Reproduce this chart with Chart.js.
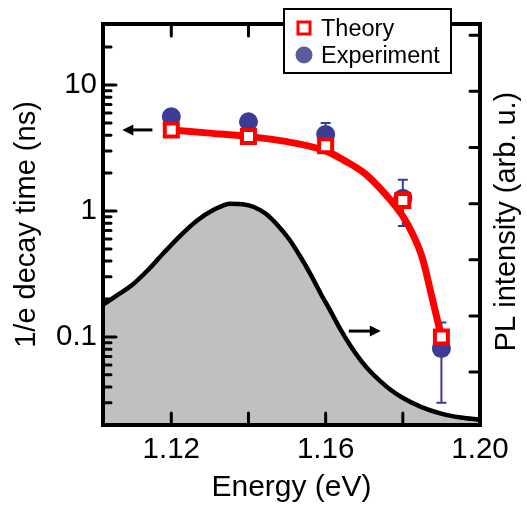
<!DOCTYPE html>
<html>
<head>
<meta charset="utf-8">
<script src="https://cdn.jsdelivr.net/npm/chart.js@4"></script>
<style>
  html, body { margin: 0; padding: 0; background: #fff; }
</style>
</head>
<body>
<canvas id="chart" width="527" height="508"></canvas>
<script>
// axis ticks
const xTicks = [1.12, 1.14, 1.16, 1.18, 1.20];
const xTickLabels = ['1.12', '', '1.16', '', '1.20'];
const yTicks = [0.1, 1, 10];
const yTickLabels = ['0.1', '1', '10'];
const y2Ticks = [1, 2, 3, 4, 5, 6, 7];

// theory (open squares) and its smooth curve
const theoryEnergy = [1.12, 1.14, 1.16, 1.18, 1.19];
const theoryTau = [4.4, 3.9, 3.3, 1.21, 0.1];
const curveEnergy = [1.12, 1.13, 1.14, 1.15, 1.16, 1.165, 1.17, 1.175, 1.18, 1.1825, 1.185, 1.1875, 1.19];
const curveTau = [4.4, 4.15, 3.9, 3.55, 3.0, 2.5, 2.0, 1.41, 0.91, 0.66, 0.43, 0.21, 0.1];

// experiment (filled circles) with error bars
const expEnergy = [1.12, 1.14, 1.16, 1.18, 1.19];
const expTau = [5.6, 5.1, 4.05, 1.26, 0.081];
const expErrLow = [5.1, 4.7, 3.2, 0.76, 0.030];
const expErrHigh = [6.1, 5.6, 5.0, 1.77, 0.13];

// PL spectrum (right axis)
const plEnergy = [1.1023, 1.106, 1.110, 1.1137, 1.118, 1.1225, 1.1267, 1.131, 1.1353, 1.1385, 1.1414,
  1.1445, 1.1475, 1.1505, 1.1535, 1.1561, 1.1587, 1.1613, 1.1639, 1.1665, 1.1691, 1.1717, 1.1743,
  1.1769, 1.1795, 1.1847, 1.1899, 1.195, 1.2];
const plIntensity = [2.2, 2.37, 2.56, 2.8, 3.12, 3.44, 3.7, 3.89, 4.0, 3.99, 3.94,
  3.82, 3.62, 3.37, 3.05, 2.74, 2.4, 2.08, 1.75, 1.46, 1.21, 1.0, 0.83,
  0.68, 0.56, 0.38, 0.26, 0.19, 0.15];

// arrow annotations, in data coordinates
const arrows = [
  { axis: 'y', x0: 1.1151, x1: 1.1073, v: 4.4 },
  { axis: 'y2', x0: 1.166, x1: 1.1743, v: 1.73 }
];

const FONT = '"Liberation Sans", Arial, Helvetica, sans-serif';
const expColor = '#3b3b98';
const red = '#ff0000';
const rightTitle = 'PL intensity (arb. u.)';

Chart.defaults.color = '#000';
Chart.defaults.font.family = FONT;

function pts(xs, ys) {
  return xs.map((x, i) => ({ x: x, y: ys[i] }));
}

const decor = {
  id: 'decor',
  afterDatasetDraw(chart, args) {
    if (args.index !== 1) return;
    const ctx = chart.ctx, x = chart.scales.x, y = chart.scales.y;
    ctx.save();
    ctx.strokeStyle = expColor;
    ctx.lineWidth = 2;
    expEnergy.forEach((e, i) => {
      const px = x.getPixelForValue(e);
      const lo = y.getPixelForValue(expErrLow[i]);
      const hi = y.getPixelForValue(expErrHigh[i]);
      ctx.beginPath();
      ctx.moveTo(px, lo); ctx.lineTo(px, hi);
      ctx.moveTo(px - 5, lo); ctx.lineTo(px + 5, lo);
      ctx.moveTo(px - 5, hi); ctx.lineTo(px + 5, hi);
      ctx.stroke();
    });
    ctx.restore();
  },
  afterDraw(chart) {
    const ctx = chart.ctx, a = chart.chartArea;
    const x = chart.scales.x, y = chart.scales.y, y2 = chart.scales.y2;
    ctx.save();
    ctx.strokeStyle = '#000';
    ctx.lineCap = 'round';
    ctx.lineWidth = 3;
    // inward tick marks
    ctx.beginPath();
    xTicks.forEach(v => {
      const px = x.getPixelForValue(v);
      if (px > a.left + 2 && px < a.right - 2) {
        ctx.moveTo(px, a.bottom); ctx.lineTo(px, a.bottom - 12);
        ctx.moveTo(px, a.top); ctx.lineTo(px, a.top + 12);
      }
    });
    for (let d = 0.01; d < 100; d *= 10) {
      for (let m = 1; m <= 9; m++) {
        const v = d * m;
        if (v < y.min || v > y.max) continue;
        const py = y.getPixelForValue(v);
        if (py < a.top + 2 || py > a.bottom - 2) continue;
        ctx.moveTo(a.left, py); ctx.lineTo(a.left + (m === 1 ? 13 : 8), py);
      }
    }
    y2Ticks.forEach(v => {
      const py = y2.getPixelForValue(v);
      ctx.moveTo(a.right, py); ctx.lineTo(a.right - 10, py);
    });
    ctx.stroke();
    // frame
    ctx.lineCap = 'butt';
    ctx.lineWidth = 4;
    ctx.strokeRect(a.left, a.top, a.right - a.left, a.bottom - a.top);
    // arrows
    ctx.fillStyle = '#000';
    ctx.lineWidth = 3;
    arrows.forEach(ar => {
      const s = chart.scales[ar.axis];
      const px0 = x.getPixelForValue(ar.x0), px1 = x.getPixelForValue(ar.x1);
      const py = s.getPixelForValue(ar.v);
      const dir = Math.sign(px1 - px0);
      ctx.beginPath();
      ctx.moveTo(px0, py); ctx.lineTo(px1 - dir * 8, py);
      ctx.stroke();
      ctx.beginPath();
      ctx.moveTo(px1, py);
      ctx.lineTo(px1 - dir * 11, py - 5.5);
      ctx.lineTo(px1 - dir * 11, py + 5.5);
      ctx.closePath();
      ctx.fill();
    });
    // right axis title, reading upward like the left one
    ctx.save();
    ctx.translate(y2.right - 20, (a.top + a.bottom) / 2 - 3);
    ctx.rotate(-Math.PI / 2);
    ctx.font = '29px ' + FONT;
    ctx.textAlign = 'center';
    ctx.textBaseline = 'middle';
    ctx.fillText(rightTitle, 0, 0);
    ctx.restore();
    // legend
    ctx.fillStyle = '#fff';
    ctx.fillRect(284, 9, 167, 64);
    ctx.lineWidth = 2;
    ctx.strokeStyle = '#000';
    ctx.strokeRect(284, 9, 167, 64);
    ctx.lineWidth = 3;
    ctx.strokeStyle = red;
    ctx.fillStyle = '#fff';
    ctx.fillRect(298, 22, 12, 12);
    ctx.strokeRect(298, 22, 12, 12);
    ctx.fillStyle = '#5a5a9c';
    ctx.beginPath();
    ctx.arc(304, 55, 8.5, 0, Math.PI * 2);
    ctx.fill();
    ctx.fillStyle = '#000';
    ctx.font = '23.5px ' + FONT;
    ctx.textBaseline = 'alphabetic';
    ctx.fillText(chart.data.datasets[3].label, 321, 36);
    ctx.fillText(chart.data.datasets[1].label, 321, 63);
    ctx.restore();
  }
};

new Chart(document.getElementById('chart'), {
  type: 'scatter',
  data: {
    datasets: [
      {
        type: 'line',
        label: 'PL',
        data: pts(plEnergy, plIntensity),
        yAxisID: 'y2',
        borderColor: '#000',
        borderWidth: 4.5,
        backgroundColor: '#c0c0c0',
        fill: 'start',
        cubicInterpolationMode: 'monotone',
        pointRadius: 0,
        order: 4
      },
      {
        label: 'Experiment',
        data: pts(expEnergy, expTau),
        yAxisID: 'y',
        pointStyle: 'circle',
        pointRadius: 9.5,
        backgroundColor: expColor,
        borderWidth: 0,
        order: 3
      },
      {
        type: 'line',
        label: 'Theory curve',
        data: pts(curveEnergy, curveTau),
        yAxisID: 'y',
        borderColor: red,
        borderWidth: 7,
        cubicInterpolationMode: 'monotone',
        pointRadius: 0,
        fill: false,
        order: 2
      },
      {
        label: 'Theory',
        data: pts(theoryEnergy, theoryTau),
        yAxisID: 'y',
        pointStyle: 'rect',
        pointRadius: 9.2,
        borderWidth: 4,
        borderColor: red,
        backgroundColor: '#fff',
        order: 1
      }
    ]
  },
  options: {
    responsive: false,
    animation: false,
    events: [],
    layout: { padding: { top: 24, left: 0, right: 0, bottom: 0 } },
    plugins: { legend: { display: false }, tooltip: { enabled: false } },
    scales: {
      x: {
        type: 'linear',
        position: 'bottom',
        min: 1.1023,
        max: 1.2,
        afterBuildTicks: s => { s.ticks = xTicks.map(v => ({ value: v })); },
        afterFit: s => { s.height = 83; },
        grid: { display: false, drawTicks: false },
        border: { display: false },
        ticks: {
          autoSkip: false, maxRotation: 0, padding: 7,
          font: { size: 29.5 },
          callback: (v, i) => xTickLabels[i]
        },
        title: { display: true, text: 'Energy (eV)', font: { size: 30 }, padding: { top: 0, bottom: 2 } }
      },
      y: {
        type: 'logarithmic',
        position: 'left',
        min: 0.02,
        max: 30.5,
        afterBuildTicks: s => { s.ticks = yTicks.map(v => ({ value: v })); },
        afterFit: s => { s.width = 103; },
        grid: { display: false, drawTicks: false },
        border: { display: false },
        ticks: {
          autoSkip: false, padding: 6,
          font: { size: 29.5 },
          callback: (v, i) => yTickLabels[i]
        },
        title: { display: true, text: '1/e decay time (ns)', font: { size: 29 }, padding: { top: 10, bottom: 0 } }
      },
      y2: {
        type: 'linear',
        position: 'right',
        min: 0.057,
        max: 7.2,
        afterBuildTicks: s => { s.ticks = y2Ticks.map(v => ({ value: v })); },
        afterFit: s => { s.width = 47; },
        grid: { display: false, drawTicks: false },
        border: { display: false },
        ticks: { display: false }
      }
    }
  },
  plugins: [decor]
});
</script>
</body>
</html>
